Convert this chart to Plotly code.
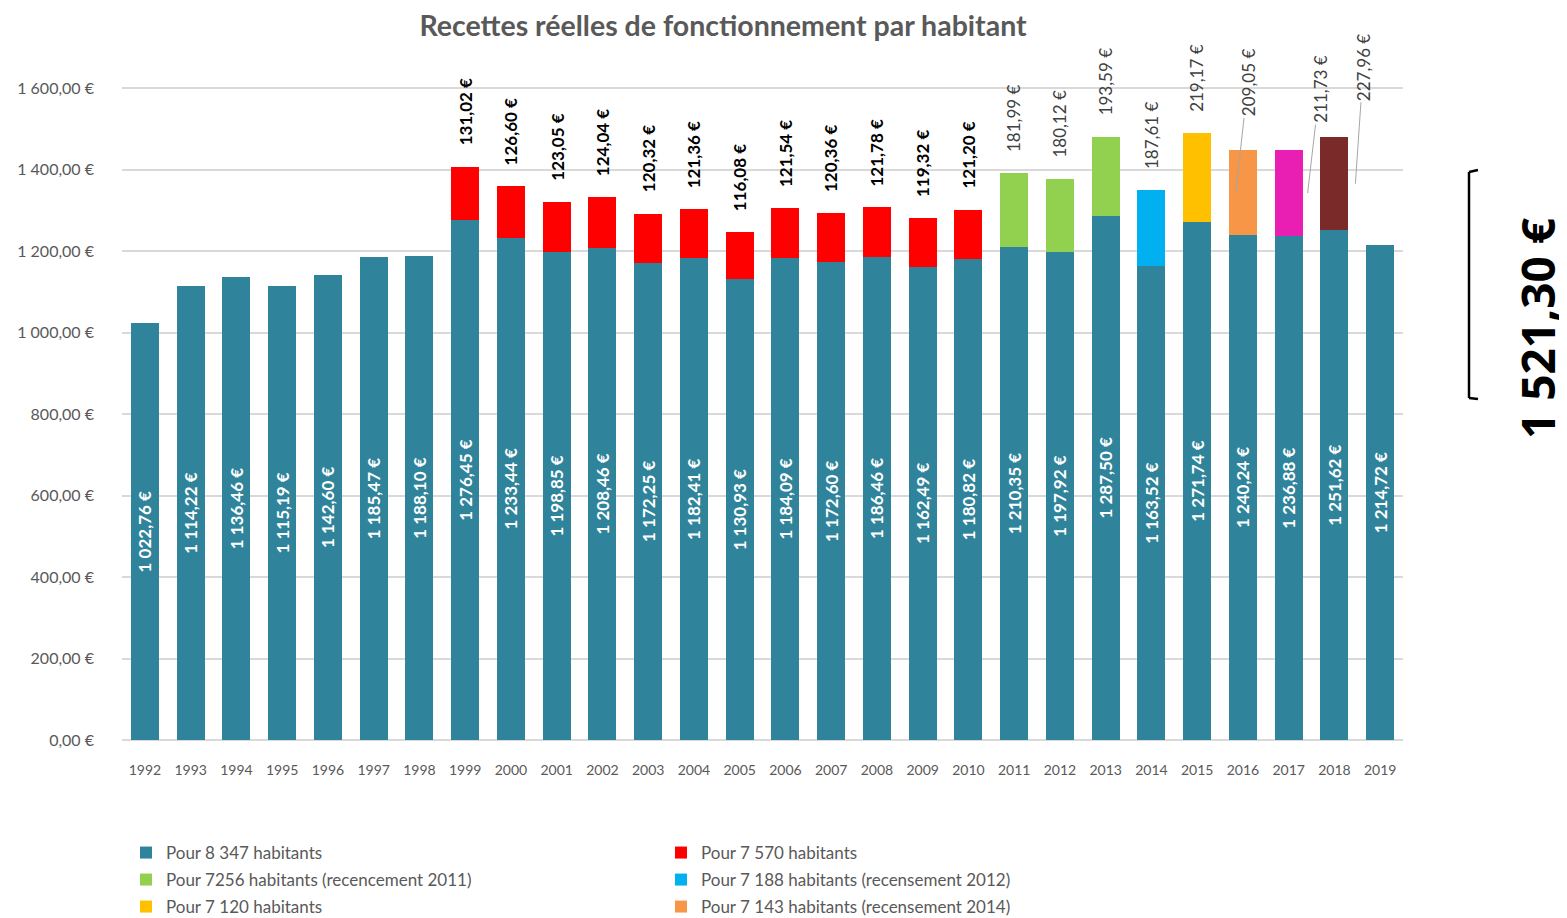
import plotly.graph_objects as go

# ---------------- data ----------------
years = [str(y) for y in range(1992, 2020)]
base_values = [1022.76, 1114.22, 1136.46, 1115.19, 1142.60, 1185.47, 1188.10,
               1276.45, 1233.44, 1198.85, 1208.46, 1172.25, 1182.41, 1130.93,
               1184.09, 1172.60, 1186.46, 1162.49, 1180.82, 1210.35, 1197.92,
               1287.50, 1163.52, 1271.74, 1240.24, 1236.88, 1251.62, 1214.72]

red_years = [str(y) for y in range(1999, 2011)]
red_values = [131.02, 126.60, 123.05, 124.04, 120.32, 121.36, 116.08, 121.54,
              120.36, 121.78, 119.32, 121.20]
green_years = ["2011", "2012", "2013"]
green_values = [181.99, 180.12, 193.59]
blue_years = ["2014"]
blue_values = [187.61]
yellow_years = ["2015"]
yellow_values = [219.17]
orange_years = ["2016"]
orange_values = [209.05]
magenta_years = ["2017"]
magenta_values = [211.73]
darkred_years = ["2018"]
darkred_values = [227.96]

series_names = ["Pour 8 347 habitants", "Pour 7 570 habitants",
                "Pour 7256 habitants (recencement 2011)",
                "Pour 7 188 habitants (recensement 2012)",
                "Pour 7 120 habitants",
                "Pour 7 143 habitants (recensement 2014)",
                "Pour 7 156 habitants (recensement 2015)",
                "Pour 7 163 habitants (recensement 2016)"]

ytick_vals = [0, 200, 400, 600, 800, 1000, 1200, 1400, 1600]
title_text = "Recettes réelles de fonctionnement par habitant"
side_total = "1 521,30 €"

# ---------------- helpers ----------------
def fr(v):
    s = f"{v:,.2f}"
    s = s.replace(",", " ").replace(".", ",")
    return s + " €"

OFF = 8  # page body margin
W, H = 1567, 918
L = 122 - OFF
R = W - (1403 - OFF)
T = 72 - OFF
B = H - (740 - OFF)
PW, PH = W - L - R, H - T - B

def px(x):
    return (x - OFF - L) / PW

def py(y):
    return (H - B - (y - OFF)) / PH

FONT = "Lato, 'Open Sans', sans-serif"
GREY = "#595959"

colors = ["#2F849B", "#FF0000", "#92D050", "#00B0F0", "#FFC000", "#F79646",
          "#E91EB2", "#7B2A2A"]
legend_ids = ["legend", "legend", "legend2", "legend2", "legend3", "legend3",
              "legend3", "legend3"]

fig = go.Figure()

fig.add_trace(go.Bar(
    x=years, y=base_values, name=series_names[0], legend=legend_ids[0],
    marker=dict(color=colors[0], line=dict(width=0)),
    text=[fr(v) for v in base_values], textposition="inside",
    insidetextanchor="middle", textangle=-90,
    textfont=dict(family=FONT, size=17, color="white", weight="bold"),
    constraintext="none", cliponaxis=False, hoverinfo="x+y"))

top_series = [
    (red_years, red_values, True, dict(color="#000000", weight="bold")),
    (green_years, green_values, True, dict(color="#404040")),
    (blue_years, blue_values, True, dict(color="#404040")),
    (yellow_years, yellow_values, True, dict(color="#404040")),
    (orange_years, orange_values, False, dict(color="#404040")),
    (magenta_years, magenta_values, False, dict(color="#404040")),
    (darkred_years, darkred_values, False, dict(color="#404040")),
]

base_map = dict(zip(years, base_values))
# leader-line label offsets (pixels): xshift of tip, ax, ay
offs = {"2016": (-7, 12, -110), "2017": (19, 12, -104), "2018": (21, 8, -117)}

for i, (ys, vals, above, tf) in enumerate(top_series):
    fig.add_trace(go.Bar(
        x=ys, y=vals, name=series_names[i + 1], legend=legend_ids[i + 1],
        marker=dict(color=colors[i + 1], line=dict(width=0)),
        showlegend=(i + 1) < 6, hoverinfo="x+y"))
    for yr, v in zip(ys, vals):
        if above:
            fig.add_annotation(
                x=years.index(yr), y=base_map[yr] + v, text=fr(v),
                textangle=-90, showarrow=False, xanchor="center",
                yanchor="bottom", yshift=19,
                font=dict(family=FONT, size=17, **tf))
        else:
            xs, ax, ay = offs[yr]
            fig.add_annotation(
                x=years.index(yr), y=base_map[yr] + v / 2, text=fr(v),
                textangle=-90, showarrow=True, arrowhead=0, arrowwidth=1,
                arrowcolor="#A6A6A6", ax=ax, ay=ay, xshift=xs,
                font=dict(family=FONT, size=17, **tf))

# bracket on the right
bx, btop, bbot = 1469, 172, 398
for (x0, y0, x1, y1) in [(bx, btop, bx, bbot), (bx, btop, bx + 9, btop - 2),
                         (bx, bbot, bx + 9, bbot + 1)]:
    fig.add_shape(type="line", xref="paper", yref="paper",
                  x0=px(x0), y0=py(y0), x1=px(x1), y1=py(y1),
                  line=dict(color="black", width=2.5))

fig.add_annotation(xref="paper", yref="paper", x=px(1537), y=py(328),
                   xanchor="center", yanchor="middle",
                   text=side_total, textangle=-90, showarrow=False,
                   font=dict(family="'Open Sans', sans-serif", size=46,
                             color="black", weight="bold"))

legend_common = dict(orientation="h", xanchor="left", yanchor="middle",
                     entrywidth=490, entrywidthmode="pixels",
                     font=dict(family=FONT, size=17, color=GREY),
                     traceorder="normal", bgcolor="rgba(0,0,0,0)")

fig.update_layout(
    width=W, height=H, autosize=False,
    margin=dict(l=L, r=R, t=T, b=B, autoexpand=False),
    barmode="stack", bargap=0.39,
    plot_bgcolor="white", paper_bgcolor="white",
    title=dict(text=title_text, x=px(723), xanchor="center", xref="paper",
               y=1 - (26 - OFF) / H, yanchor="middle",
               font=dict(family=FONT, size=28.5, color=GREY, weight="bold")),
    xaxis=dict(type="category", categoryorder="array", categoryarray=years,
               range=[-0.5, len(years) - 0.5],
               showgrid=False, showline=False, ticks="",
               tickfont=dict(family=FONT, size=14, color=GREY),
               ticklabelstandoff=20),
    yaxis=dict(range=[0, 1640], tickvals=ytick_vals,
               ticktext=[fr(v) for v in ytick_vals],
               showgrid=True, gridcolor="#D9D9D9", gridwidth=1.5,
               zeroline=True, zerolinecolor="#D9D9D9", zerolinewidth=1.5,
               showline=False, ticks="",
               tickfont=dict(family=FONT, size=16, color=GREY),
               ticklabelstandoff=27),
    legend=dict(x=px(126), y=py(853), **legend_common),
    legend2=dict(x=px(126), y=py(880), **legend_common),
    legend3=dict(x=px(126), y=py(907), **legend_common),
)

fig.write_html("out.html")
